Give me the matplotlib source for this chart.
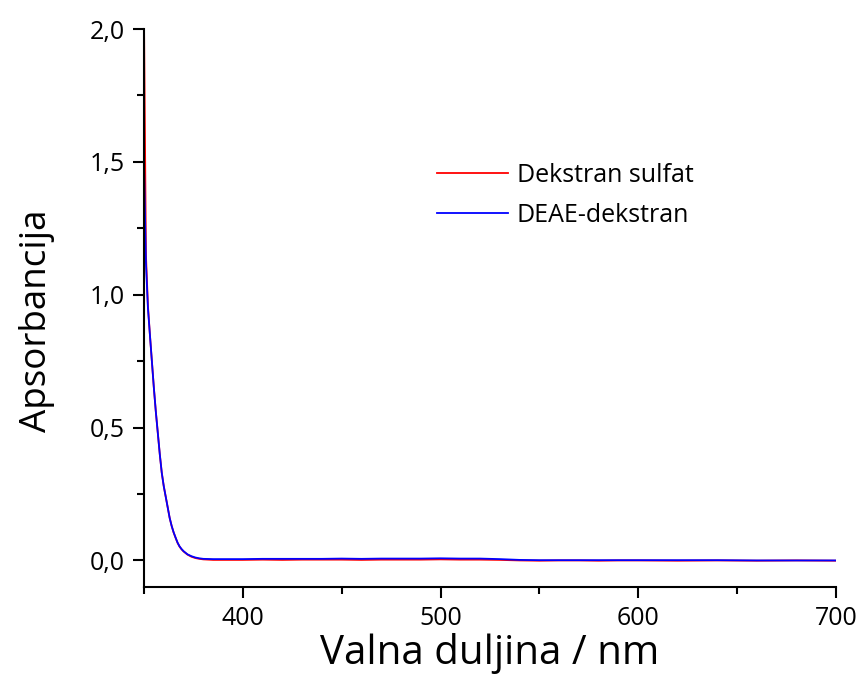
import numpy as np
import matplotlib
matplotlib.use('Agg')
from matplotlib import pyplot as plt
from matplotlib.ticker import MultipleLocator, FuncFormatter

# wavelength (nm) and absorbance
wl_edge = [350, 351, 352, 353, 354, 355, 356, 357, 358, 359, 360, 361, 362, 363,
           364, 365, 366, 367, 368, 369, 370, 372, 374, 376, 378, 380, 385]
sulfat_edge = [2.05, 1.15, 0.96, 0.85, 0.75, 0.65, 0.56, 0.48, 0.40, 0.33, 0.28,
               0.24, 0.20, 0.16, 0.13, 0.105, 0.085, 0.066, 0.052, 0.042, 0.034,
               0.022, 0.014, 0.009, 0.006, 0.004, 0.002]
deae_edge = [1.50, 1.12, 0.95, 0.85, 0.75, 0.65, 0.56, 0.48, 0.40, 0.33, 0.28,
             0.24, 0.20, 0.16, 0.13, 0.106, 0.086, 0.067, 0.053, 0.043, 0.035,
             0.023, 0.016, 0.011, 0.008, 0.006, 0.005]

wl_flat = [390, 400, 410, 420, 430, 440, 450, 460, 470, 480, 490, 500, 510, 520,
           530, 540, 550, 560, 570, 580, 590, 600, 620, 640, 660, 680, 700]
sulfat_flat = [0.002, 0.002, 0.003, 0.002, 0.003, 0.003, 0.003, 0.002, 0.003, 0.003,
               0.003, 0.004, 0.003, 0.003, 0.002, 0.000, -0.001, 0.000, 0.000, -0.001,
               0.000, 0.000, -0.001, 0.000, -0.001, 0.000, -0.001]
deae_flat = [0.005, 0.005, 0.006, 0.006, 0.006, 0.006, 0.007, 0.006, 0.007, 0.007,
             0.007, 0.008, 0.007, 0.007, 0.005, 0.002, 0.001, 0.001, 0.001, 0.001,
             0.001, 0.001, 0.001, 0.001, 0.000, 0.000, 0.000]

wavelength = wl_edge + wl_flat
sulfat = sulfat_edge + sulfat_flat
deae = deae_edge + deae_flat

plt.rcParams['font.family'] = ['Open Sans', 'DejaVu Sans']

fig = plt.figure(figsize=(8.6, 6.86), dpi=100)
ax = fig.add_axes([0.1674, 0.1443, 0.8046, 0.8134])

ax.plot(wavelength, sulfat, color='#ff0000', lw=1.3, label='Dekstran sulfat')
ax.plot(wavelength, deae, color='#0000ff', lw=1.3, label='DEAE-dekstran')

ax.set_xlim(350, 700)
ax.set_ylim(-0.1, 2.0)

ax.xaxis.set_major_locator(MultipleLocator(100))
ax.xaxis.set_minor_locator(MultipleLocator(50))
ax.yaxis.set_major_locator(MultipleLocator(0.5))
ax.yaxis.set_minor_locator(MultipleLocator(0.25))
ax.yaxis.set_major_formatter(FuncFormatter(lambda v, p: f'{v:.1f}'.replace('.', ',')))

for side in ['top', 'right']:
    ax.spines[side].set_visible(False)
for side in ['left', 'bottom']:
    ax.spines[side].set_linewidth(1.5)

ax.tick_params(which='major', direction='out', length=8, width=1.5, labelsize=18, pad=6)
ax.tick_params(which='minor', direction='out', length=5, width=1.5)

ax.set_xlabel('Valna duljina / nm', fontsize=29, labelpad=1)
ax.set_ylabel('Apsorbancija', fontsize=26.5)
ax.yaxis.set_label_coords(-0.129, 0.477)

leg = ax.legend(loc='upper left', bbox_to_anchor=(0.4234, 0.76), frameon=False,
                fontsize=18, handlelength=2.84, handletextpad=0.36, labelspacing=0.6,
                borderpad=0, borderaxespad=0)

fig.savefig('out.png', dpi=100)
